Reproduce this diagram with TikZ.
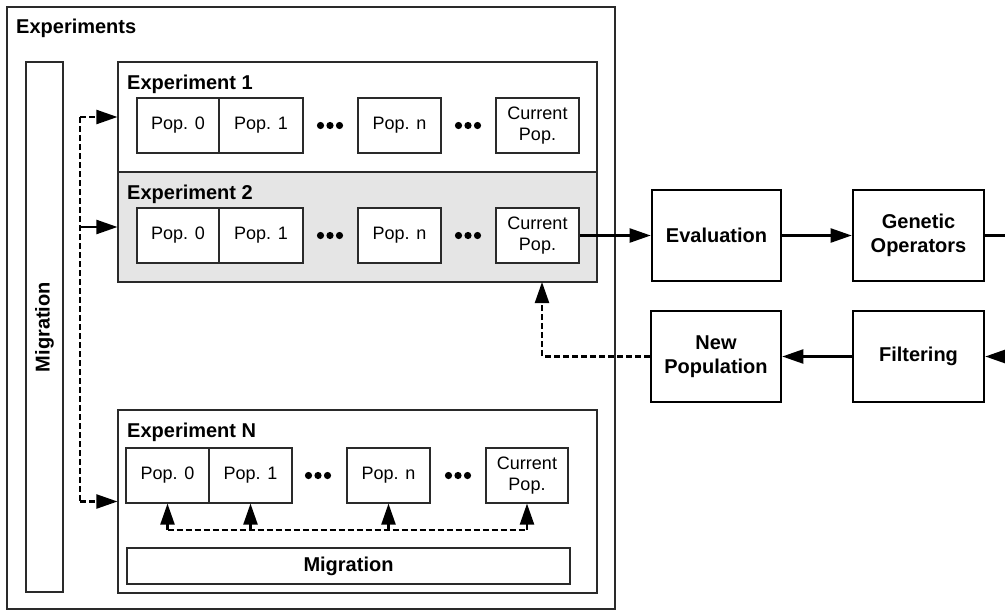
\documentclass[tikz,border=0pt]{standalone}
\usepackage{fontspec}
\setmainfont{Liberation Sans}
\usetikzlibrary{arrows.meta}
\newcommand{\mypopfont}{\fontsize{18}{21}\selectfont}
\newcommand{\mytitlefont}{\fontsize{20}{24}\selectfont\bfseries}
\definecolor{linegray}{HTML}{2A2A2A}
\definecolor{expfill}{HTML}{E5E5E5}
\tikzset{
  framebox/.style={draw=linegray, line width=1.1pt, inner sep=0pt},
  popbox/.style={draw=linegray, line width=1.1pt, fill=white, minimum height=55pt, inner sep=0pt, align=center, font=\mypopfont},
  stagebox/.style={draw=black, line width=2.6pt, minimum height=91pt, inner sep=0pt, align=center, font=\mytitlefont},
  titletext/.style={anchor=base west, inner sep=0pt, font=\mytitlefont},
  arr/.style={draw=black, line width=2.2pt, -{Triangle[length=21pt,width=14pt]}},
  dasharr/.style={arr, dash pattern=on 6pt off 3pt},
  dline/.style={draw=black, line width=2.2pt, dash pattern=on 6pt off 3pt},
  sline/.style={draw=black, line width=2.2pt},
  dotmark/.style={fill=black},
}
\begin{document}
\begin{tikzpicture}[x=1pt,y=-1pt]
\useasboundingbox (0,0) rectangle (1005,611);
% outer frame
\node[framebox, minimum width=608pt, minimum height=602pt] (outer) at (311,308) {};
\node[titletext] (outertitle) at (16,33) {Experiments};
% left migration bar
\node[framebox, minimum width=37pt, minimum height=530pt] (migbar) at (44.5,327) {};
\node[rotate=90, font=\mytitlefont, inner sep=0pt] (migtext) at (44.5,327) {Migration};
% experiment boxes
\node[framebox, fill=white, minimum width=479pt, minimum height=110pt] (exp1) at (357.5,117) {};
\node[framebox, fill=expfill, minimum width=479pt, minimum height=110pt] (exp2) at (357.5,227) {};
\node[framebox, fill=white, minimum width=479pt, minimum height=183pt] (expN) at (357.5,501.5) {};
\node[titletext] (t1) at (127,89.3) {Experiment 1};
\node[titletext] (t2) at (127,199.5) {Experiment 2};
\node[titletext] (tN) at (127,437) {Experiment N};
% populations, experiment 1
\node[popbox, minimum width=82pt] (p10) at (178,125.5) {Pop. 0};
\node[popbox, minimum width=84pt] (p11) at (261,125.5) {Pop. 1};
\node[popbox, minimum width=83pt] (p1n) at (399.5,125.5) {Pop. n};
\node[popbox, minimum width=83pt] (p1c) at (537.5,125.5) {Current\\Pop.};
% experiment 2
\node[popbox, minimum width=82pt] (p20) at (178,235.5) {Pop. 0};
\node[popbox, minimum width=84pt] (p21) at (261,235.5) {Pop. 1};
\node[popbox, minimum width=83pt] (p2n) at (399.5,235.5) {Pop. n};
\node[popbox, minimum width=83pt] (p2c) at (537.5,235.5) {Current\\Pop.};
% experiment N
\node[popbox, minimum width=83pt] (pN0) at (167.5,475.5) {Pop. 0};
\node[popbox, minimum width=83pt] (pN1) at (250.5,475.5) {Pop. 1};
\node[popbox, minimum width=83pt] (pNn) at (388.5,475.5) {Pop. n};
\node[popbox, minimum width=82pt] (pNc) at (527,475.5) {Current\\Pop.};
\node[framebox, minimum width=443pt, minimum height=36pt, font=\mytitlefont] (migbottom) at (348.5,566) {Migration};
% dots
\foreach \cx/\cy in {330/125.5, 468/125.5, 330/235.5, 468/235.5, 318/475.5, 458/475.5}{
  \foreach \dx in {-9.5,0,9.5}{
    \fill[dotmark] (\cx+\dx,\cy) circle (3.6pt);
  }
}
% stage boxes
\node[stagebox, minimum width=129pt] (eval) at (716.5,235.5) {Evaluation};
\node[stagebox, minimum width=131pt] (genop) at (918.5,235.5) {Genetic\\Operators};
\node[stagebox, minimum width=130pt] (newpop) at (716,356.5) {New\\Population};
\node[stagebox, minimum width=131pt] (filter) at (918.5,356.5) {Filtering};
% flow arrows
\draw[arr] (p2c.east) -- (eval.west);
\draw[arr] (eval.east) -- (genop.west);
\coordinate (edgeout) at (1006,235.5);
\coordinate (edgein) at (1006,356.5);
\draw[sline] (genop.east) -- (edgeout);
\draw[arr] (edgein) -- (filter.east);
\draw[arr] (filter.west) -- (newpop.east);
\coordinate (fbcorner) at (542,356.5);
\coordinate (fbtip) at (542,282);
\draw[dasharr] (newpop.west) -- (fbcorner) -- (fbtip);
% migration between experiments
\coordinate (m1) at (80,117);
\coordinate (m2) at (80,227);
\coordinate (mN) at (80,501.5);
\draw[dline] (m1) -- (mN);
\draw[dasharr] (m1) -- (exp1.west);
\draw[arr] (m2) -- (exp2.west);
\draw[dasharr] (mN) -- (expN.west);
% migration within experiment N
\coordinate (ua) at (167.5,530);
\coordinate (ub) at (250.5,530);
\coordinate (uc) at (388.5,530);
\coordinate (ud) at (527,530);
\draw[dline] (ua) -- (ud);
\draw[arr] (ua) -- (pN0.south);
\draw[arr] (ub) -- (pN1.south);
\draw[arr] (uc) -- (pNn.south);
\draw[arr] (ud) -- (pNc.south);
\end{tikzpicture}
\end{document}
